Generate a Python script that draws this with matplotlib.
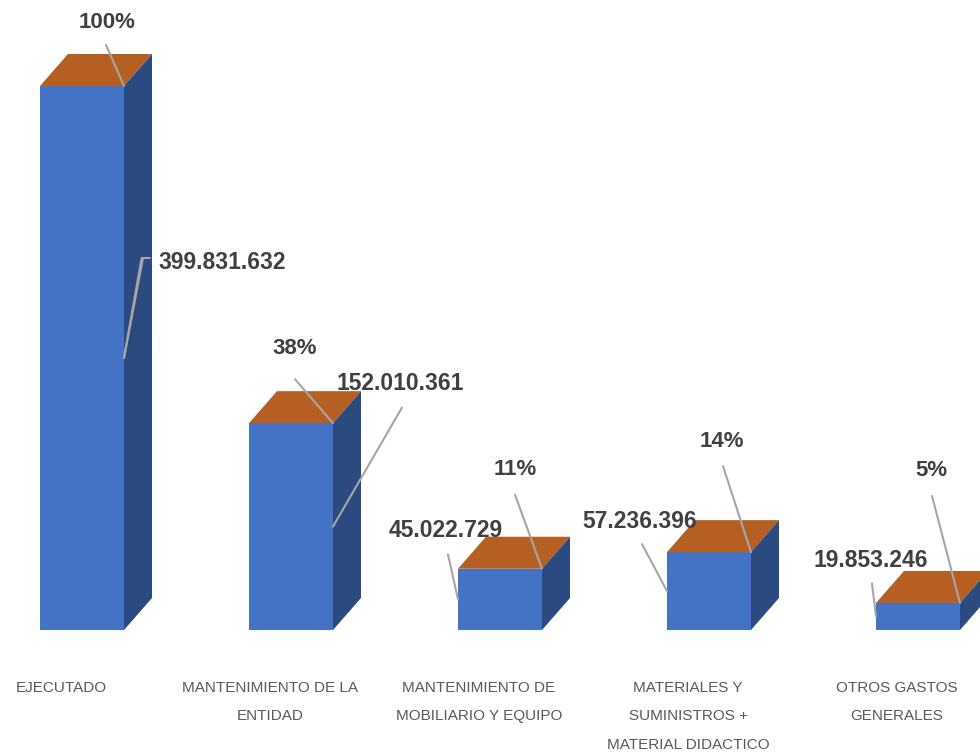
import matplotlib.pyplot as plt
from matplotlib.patches import Polygon, Rectangle

plt.rcParams['font.family'] = ['Liberation Sans', 'DejaVu Sans']

# data
categories = ['EJECUTADO',
              'MANTENIMIENTO DE LA\nENTIDAD',
              'MANTENIMIENTO DE\nMOBILIARIO Y EQUIPO',
              'MATERIALES Y\nSUMINISTROS +\nMATERIAL DIDACTICO',
              'OTROS GASTOS\nGENERALES']
values = [399831632, 152010361, 45022729, 57236396, 19853246]
value_labels = ['399.831.632', '152.010.361', '45.022.729', '57.236.396', '19.853.246']
pct_labels = ['100%', '38%', '11%', '14%', '5%']

# label placement (pixel offsets from the anchor on each bar)
pct_line_end = [(-18, 41), (-38, 44), (-27, 74), (-28, 86), (-28, 107)]
pct_text_pos = [(-17, 63), (-38, 75), (-27, 99), (-29, 111), (-29, 132)]
val_side = ['right', 'right', 'left', 'left', 'left']
val_line_end = [(19, 100), (69, 119), (-10, 45), (-25, 47), (-4, 33)]
val_text_pos = [(34, 95), (67, 143), (-12, 69), (-27, 70), (-5, 56)]

front_col = '#4472C4'
top_col = '#B55F22'
side_col = '#2B4A80'
line_col = '#A6A6A6'
text_col = '#404040'

W, H = 980, 755
fig = plt.figure(figsize=(W / 100, H / 100), dpi=100)
ax = fig.add_axes([0, 0, 1, 1])
ax.axis('off')

spacing = 209.0  # px between bars
ax.set_xlim(-82 / spacing, (W - 82) / spacing)
top_px = values[0] / 544.0
ax.set_ylim(-125 * top_px, 630 * top_px)

bw = 84 / spacing
dx = 28 / spacing
dy = 32 * top_px

for i, v in enumerate(values):
    x0, x1 = i - bw / 2, i + bw / 2
    ax.add_patch(Rectangle((x0, 0), bw, v, facecolor=front_col, edgecolor='none'))
    ax.add_patch(Polygon([(x0, v), (x1, v), (x1 + dx, v + dy), (x0 + dx, v + dy)],
                         facecolor=top_col, edgecolor='none'))
    ax.add_patch(Polygon([(x1, 0), (x1 + dx, dy), (x1 + dx, v + dy), (x1, v)],
                         facecolor=side_col, edgecolor='none'))

    # percentage label
    anchor = (x1, v)
    ax.annotate('', xy=anchor, xytext=pct_line_end[i], textcoords='offset pixels',
                arrowprops=dict(arrowstyle='-', color=line_col, lw=1.5,
                                shrinkA=0, shrinkB=0))
    ax.annotate(pct_labels[i], xy=anchor, xytext=pct_text_pos[i],
                textcoords='offset pixels', ha='center', va='center',
                fontsize=16, fontweight='bold', color=text_col)

    # value label
    vx = x1 if val_side[i] == 'right' else x0
    anchor = (vx, v / 2)
    if i == 0:
        ax.annotate('', xy=anchor, xytext=(19, 100), textcoords='offset pixels',
                    arrowprops=dict(arrowstyle='-', color=line_col, lw=1.5,
                                    shrinkA=0, shrinkB=0))
        ax.annotate('', xy=anchor, xytext=(26, 100), textcoords='offset pixels',
                    arrowprops=dict(arrowstyle='-', color=line_col, lw=1.5,
                                    shrinkA=0, shrinkB=0,
                                    connectionstyle='angle,angleA=0,angleB=80,rad=0'))
        ha = 'left'
    else:
        ax.annotate('', xy=anchor, xytext=val_line_end[i], textcoords='offset pixels',
                    arrowprops=dict(arrowstyle='-', color=line_col, lw=1.5,
                                    shrinkA=0, shrinkB=0))
        ha = 'center'
    ax.annotate(value_labels[i], xy=anchor, xytext=val_text_pos[i],
                textcoords='offset pixels', ha=ha, va='center',
                fontsize=16.5, fontweight='bold', color=text_col)

    # category label
    ax.annotate(categories[i], xy=(i, 0), xytext=(-21, -51), textcoords='offset pixels',
                ha='center', va='top', multialignment='center', linespacing=2.3,
                fontsize=11, color='#595959')

fig.savefig('out.png', dpi=100)
